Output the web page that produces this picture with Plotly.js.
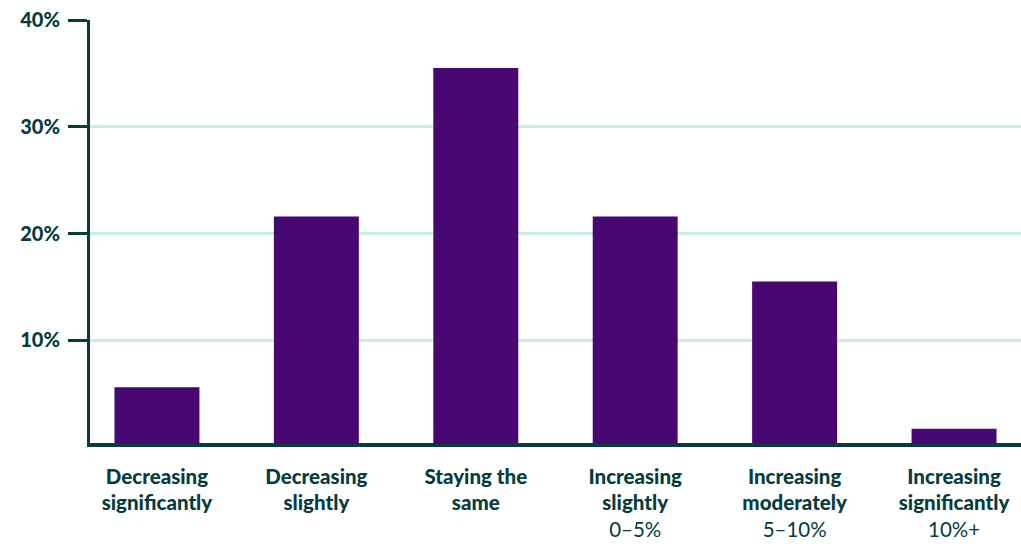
<!DOCTYPE html>
<html>
<head>
<meta charset="utf-8">
<script src="https://cdn.plot.ly/plotly-3.0.1.min.js"></script>
<style>html,body{margin:0;padding:0;background:#fff;}#chart{width:1021px;height:544px;}</style>
</head>
<body>
<div id="chart"></div>
<script>
const categories = [
  ["Decreasing", "significantly", ""],
  ["Decreasing", "slightly", ""],
  ["Staying the", "same", ""],
  ["Increasing", "slightly", "0–5%"],
  ["Increasing", "moderately", "5–10%"],
  ["Increasing", "significantly", "10%+"]
];
const values = [5.6, 21.6, 35.5, 21.6, 15.5, 1.7];
const yTickVals = [10, 20, 30, 40];
const yTickText = ["10%", "20%", "30%", "40%"];

const dark = "#053c3e";
const positions = categories.map((c, i) => i);
const heavy = s => '<span style="font-weight:900">' + s + '</span>';
const tickText = categories.map(c => heavy(c[0]) + "<br>" + heavy(c[1]) + (c[2] ? "<br>" + c[2] : ""));

const trace = {
  type: "bar",
  x: positions,
  y: values,
  width: 0.533,
  marker: {color: "#470872"},
  hoverinfo: "skip"
};

const layout = {
  width: 1021, height: 544,
  margin: {l: 90, r: 0, t: 20, b: 97},
  paper_bgcolor: "#ffffff",
  plot_bgcolor: "#ffffff",
  showlegend: false,
  font: {family: "Lato, 'Open Sans', sans-serif", color: dark},
  xaxis: {
    range: [-0.42, 5.42],
    tickvals: positions,
    ticktext: tickText,
    tickfont: {size: 20.5, color: dark, family: "Lato, sans-serif"},
    showgrid: false,
    zeroline: false,
    showline: false,
    ticks: "",
    ticklabelstandoff: 15,
    fixedrange: true
  },
  yaxis: {
    range: [0, 40],
    tickvals: yTickVals,
    ticktext: yTickText,
    tickfont: {size: 20, color: dark, family: "Lato, sans-serif", weight: 900},
    showgrid: true,
    gridcolor: "#c6ecec",
    gridwidth: 3,
    zeroline: false,
    showline: true,
    linecolor: dark,
    linewidth: 3,
    ticks: "outside",
    ticklen: 19,
    tickwidth: 3,
    tickcolor: dark,
    ticklabelstandoff: 4,
    fixedrange: true
  },
  shapes: [{
    type: "line", xref: "paper", yref: "y",
    x0: -0.003, x1: 1, y0: 0, y1: 0,
    line: {color: dark, width: 8},
    layer: "above"
  }]
};

Plotly.newPlot("chart", [trace], layout, {displayModeBar: false, staticPlot: true});
</script>
</body>
</html>
